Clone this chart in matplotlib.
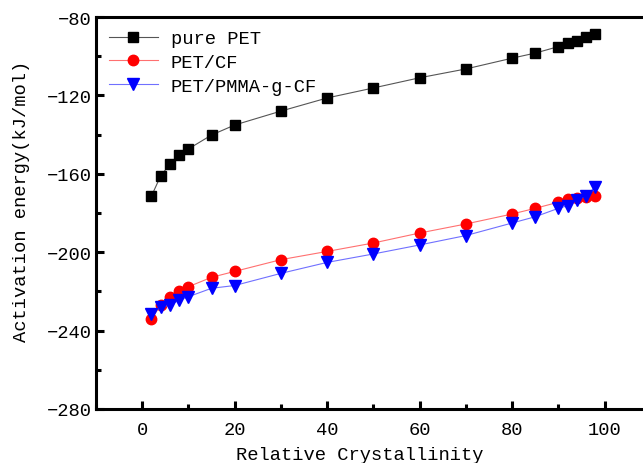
import matplotlib
matplotlib.use("Agg")
import matplotlib.pyplot as plt
from matplotlib.ticker import MultipleLocator

# --- Data ---
crystallinity = [2, 4, 6, 8, 10, 15, 20, 30, 40, 50, 60, 70, 80, 85, 90, 92, 94, 96, 98]
pure_pet = [-171.3, -161.0, -155.0, -150.4, -147.3, -140.2, -135.1, -128.0, -121.3, -116.2,
            -111.0, -106.5, -101.0, -98.4, -95.1, -93.5, -92.0, -90.0, -88.5]
pet_cf = [-234.0, -227.0, -222.9, -220.0, -217.6, -212.8, -209.8, -203.8, -199.6, -195.3,
          -190.2, -185.6, -180.5, -177.6, -174.5, -172.9, -172.2, -171.8, -171.5]
pet_pmma_cf = [-231.5, -228.0, -227.0, -224.4, -222.7, -218.4, -217.0, -210.8, -205.2, -200.9,
               -196.3, -191.5, -185.1, -181.9, -177.6, -176.3, -173.4, -171.2, -166.6]
series_labels = ["pure PET", "PET/CF", "PET/PMMA-g-CF"]

plt.rcParams['font.family'] = ['Liberation Mono', 'DejaVu Sans']
plt.rcParams['font.size'] = 13.5

fig = plt.figure(figsize=(6.43, 4.64), dpi=100)
# axes runs past the right edge of the figure, as in the cropped original
ax = fig.add_axes([0.1493, 0.1164, 0.863, 0.8448])

ax.plot(crystallinity, pure_pet, color='#555555', lw=0.8, marker='s', ms=6.5,
        mfc='black', mec='black', label=series_labels[0])
ax.plot(crystallinity, pet_cf, color='#ff7070', lw=0.8, marker='o', ms=7.5,
        mfc='red', mec='red', label=series_labels[1])
ax.plot(crystallinity, pet_pmma_cf, color='#7070ff', lw=0.8, marker='v', ms=8,
        mfc='blue', mec='blue', label=series_labels[2])

ax.set_xlim(-10, 110)
ax.set_ylim(-280, -80)
ax.set_xticks([0, 20, 40, 60, 80, 100])
ax.set_yticks([-280, -240, -200, -160, -120, -80])
ax.xaxis.set_minor_locator(MultipleLocator(10))
ax.yaxis.set_minor_locator(MultipleLocator(20))
ax.tick_params(which='major', direction='in', length=6, width=2.2)
ax.tick_params(which='minor', direction='in', length=3.5, width=2.2)
ax.tick_params(axis='x', which='major', pad=9)
ax.tick_params(axis='y', which='major', pad=3)
ax.tick_params(top=False, right=False, which='both')
for s in ax.spines.values():
    s.set_linewidth(2.2)

ax.set_xlabel("Relative Crystallinity")
ax.set_ylabel("Activation energy(kJ/mol)")
ax.xaxis.set_label_coords(0.476, -0.095)
ax.yaxis.set_label_coords(-0.119, 0.533)

ax.legend(loc='upper left', frameon=False, handlelength=2.6, handletextpad=0.7,
          borderaxespad=0.3, labelspacing=0.35, bbox_to_anchor=(0.0, 1.0))

fig.savefig("out.png", dpi=100)
